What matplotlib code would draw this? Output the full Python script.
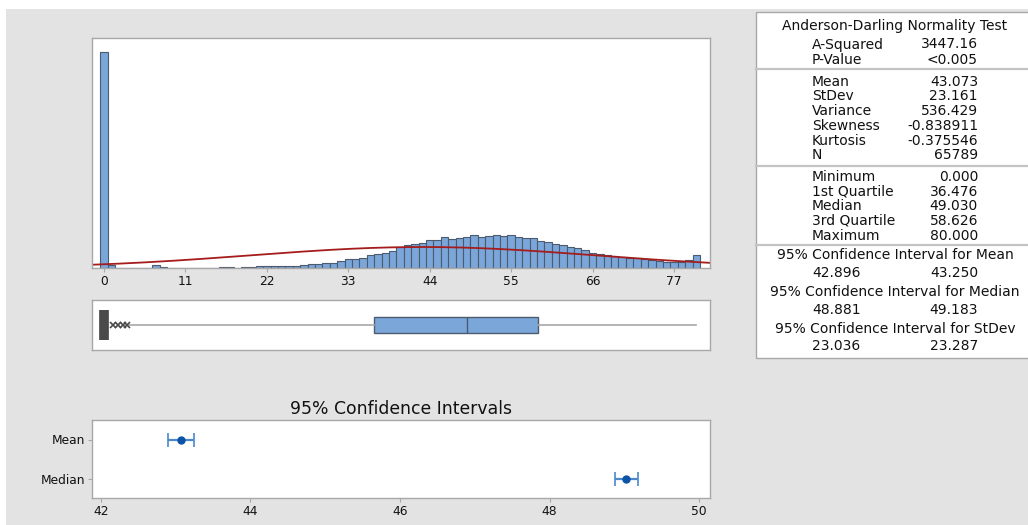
import numpy as np
import matplotlib
matplotlib.use("Agg")
import matplotlib.pyplot as plt
from matplotlib.patches import Rectangle

plt.rcParams["font.family"] = ["DejaVu Sans"]

# ---- data -------------------------------------------------------------
bin_centers = list(range(0, 81))
bin_counts = [
    11660, 150, 0, 0, 0, 0, 0, 150, 50, 0,            # 0-9
    0, 0, 0, 0, 0, 0, 50, 50, 0, 50,                  # 10-19
    50, 110, 110, 110, 110, 110, 125, 160, 200, 230,  # 20-29
    270, 270, 380, 490, 490, 555, 685, 740, 810, 910, # 30-39
    1110, 1225, 1295, 1350, 1510, 1510, 1675, 1565, 1620, 1675,  # 40-49
    1780, 1675, 1730, 1780, 1745, 1780, 1675, 1600, 1600, 1440,  # 50-59
    1420, 1295, 1260, 1135, 1080, 990, 810, 755, 685, 650,       # 60-69
    595, 555, 525, 470, 430, 395, 325, 325, 325, 430,            # 70-79
    700,                                                         # 80
]
hist_ticks = [0, 11, 22, 33, 44, 55, 66, 77]

n_obs = 65789
mean_val = 43.073
stdev_val = 23.161
minimum, q1, median, q3, maximum = 0.000, 36.476, 49.030, 58.626, 80.000
whisker_low = 3.4
outliers = [0.0, 1.2, 1.9, 2.5, 3.1]

ci_labels = ["Median", "Mean"]
ci_centers = [median, mean_val]
ci_low = [48.881, 42.896]
ci_high = [49.183, 43.250]
ci_ticks = [42, 44, 46, 48, 50]

summary_blocks = [
    [("A-Squared", "3447.16"), ("P-Value", "<0.005")],
    [("Mean", "43.073"), ("StDev", "23.161"), ("Variance", "536.429"),
     ("Skewness", "-0.838911"), ("Kurtosis", "-0.375546"), ("N", "65789")],
    [("Minimum", "0.000"), ("1st Quartile", "36.476"), ("Median", "49.030"),
     ("3rd Quartile", "58.626"), ("Maximum", "80.000")],
]
interval_rows = [
    ("95% Confidence Interval for Mean", "42.896", "43.250"),
    ("95% Confidence Interval for Median", "48.881", "49.183"),
    ("95% Confidence Interval for StDev", "23.036", "23.287"),
]

# ---- styling ------------------------------------------------------------
W, H = 1028, 525
BG = "#e3e3e3"
BAR_FACE = "#7ba6d9"
BAR_EDGE = "#4d5b6e"
CURVE = "#a51c1c"
SPINE = "#a8a8a8"
TEXT = "#111111"
TICK_FS = 8.8

fig = plt.figure(figsize=(W / 100, H / 100), dpi=100)
fig.patch.set_facecolor("white")


def px_axes(x0, y0, x1, y1, **kw):
    """Axes placed by pixel box (left, top, right, bottom)."""
    return fig.add_axes([x0 / W, 1 - y1 / H, (x1 - x0) / W, (y1 - y0) / H], **kw)


def frame(ax):
    for s in ax.spines.values():
        s.set_color(SPINE)
        s.set_linewidth(1.0)


# background canvas and summary table
bg = px_axes(0, 0, W, H)
bg.set_xlim(0, W)
bg.set_ylim(H, 0)
bg.axis("off")
bg.set_zorder(0)
bg.add_patch(Rectangle((6, 9), W, H, facecolor=BG, edgecolor="none"))

tx0, tx1, ty0, ty1 = 755.5, 1036, 11.5, 357.5
bg.add_patch(Rectangle((tx0, ty0), tx1 - tx0, ty1 - ty0, facecolor="white",
                       edgecolor=SPINE, linewidth=1.0))
fs_tab = 10.0
cx = 895
lab_x, val_x = 812, 978
bg.text(cx, 26, "Anderson-Darling Normality Test", ha="center", va="center",
        fontsize=fs_tab, color=TEXT)
block_rows = [[44.5, 59.5],
              [81.6, 96, 110.7, 125.8, 140.8, 154.8],
              [176.6, 191.6, 206.4, 220.7, 235.8]]
for block, ys in zip(summary_blocks, block_rows):
    for (lab, val), y in zip(block, ys):
        bg.text(lab_x, y, lab, ha="left", va="center", fontsize=fs_tab, color=TEXT)
        bg.text(val_x, y, val, ha="right", va="center", fontsize=fs_tab, color=TEXT)
for y in (68.5, 165.5, 244.5):
    bg.plot([tx0, tx1], [y, y], color="#c4c4c4", linewidth=1.6)
for (head, lo, hi), (yh, yv) in zip(interval_rows,
                                   [(254.8, 272.6), (291.6, 309.7), (328.8, 346.2)]):
    bg.text(cx, yh, head, ha="center", va="center", fontsize=fs_tab, color=TEXT)
    bg.text(lab_x, yv, lo, ha="left", va="center", fontsize=fs_tab, color=TEXT)
    bg.text(val_x, yv, hi, ha="right", va="center", fontsize=fs_tab, color=TEXT)

# histogram with fitted normal curve
x_lo, x_hi = -1.62, 81.86
ax_h = px_axes(92, 38, 710, 268)
ax_h.set_zorder(1)
ax_h.bar(bin_centers, bin_counts, width=1.0, color=BAR_FACE,
         edgecolor=BAR_EDGE, linewidth=0.8)
xs = np.linspace(x_lo, x_hi, 500)
pdf = np.exp(-0.5 * ((xs - mean_val) / stdev_val) ** 2) / (stdev_val * np.sqrt(2 * np.pi))
ax_h.plot(xs, n_obs * 1.0 * pdf, color=CURVE, linewidth=1.3)
ax_h.set_xlim(x_lo, x_hi)
ax_h.set_ylim(0, 12420)
ax_h.set_yticks([])
ax_h.set_xticks(hist_ticks)
ax_h.tick_params(axis="x", length=3, color=SPINE, labelsize=TICK_FS,
                 labelcolor=TEXT, pad=2)
frame(ax_h)

# boxplot
ax_b = px_axes(92, 300, 710, 350)
ax_b.set_zorder(1)
ax_b.bxp([{"med": median, "q1": q1, "q3": q3, "whislo": whisker_low,
           "whishi": maximum, "fliers": []}],
         positions=[0.5], widths=0.32, orientation="horizontal",
         showcaps=False, showfliers=False, patch_artist=True,
         boxprops=dict(facecolor=BAR_FACE, edgecolor=BAR_EDGE, linewidth=1.0),
         medianprops=dict(color=BAR_EDGE, linewidth=1.0),
         whiskerprops=dict(color="#a8a8a8", linewidth=1.2))
ax_b.plot(outliers[:1], [0.5], marker="|", markersize=21, markeredgewidth=7,
          color="#4a4a4a", linestyle="none")
ax_b.plot(outliers[1:], [0.5] * (len(outliers) - 1), marker="x", markersize=4,
          markeredgewidth=1.2, color="#4a4a4a", linestyle="none")
ax_b.set_xlim(x_lo, x_hi)
ax_b.set_ylim(0, 1)
ax_b.set_xticks([])
ax_b.set_yticks([])
frame(ax_b)

# confidence intervals
ax_c = px_axes(92, 420, 710, 498)
ax_c.set_zorder(1)
ypos = list(range(len(ci_labels)))
err = [[c - lo for c, lo in zip(ci_centers, ci_low)],
       [hi - c for c, hi in zip(ci_centers, ci_high)]]
ax_c.errorbar(ci_centers, ypos, xerr=err, fmt="none", ecolor="#4c88cc",
              elinewidth=1.6, capsize=5, capthick=1.2)
ax_c.plot(ci_centers, ypos, "o", color="#0b53a5", markersize=5)
ax_c.set_xlim(41.88, 50.147)
ax_c.set_ylim(-0.5, 1.5)
ax_c.set_xticks(ci_ticks)
ax_c.set_yticks(ypos)
ax_c.set_yticklabels(ci_labels)
ax_c.tick_params(length=3, color=SPINE, labelsize=TICK_FS, labelcolor=TEXT, pad=2)
ax_c.set_title("95% Confidence Intervals", fontsize=12.4, color=TEXT, pad=4)
frame(ax_c)

fig.savefig("out.png", dpi=100)
